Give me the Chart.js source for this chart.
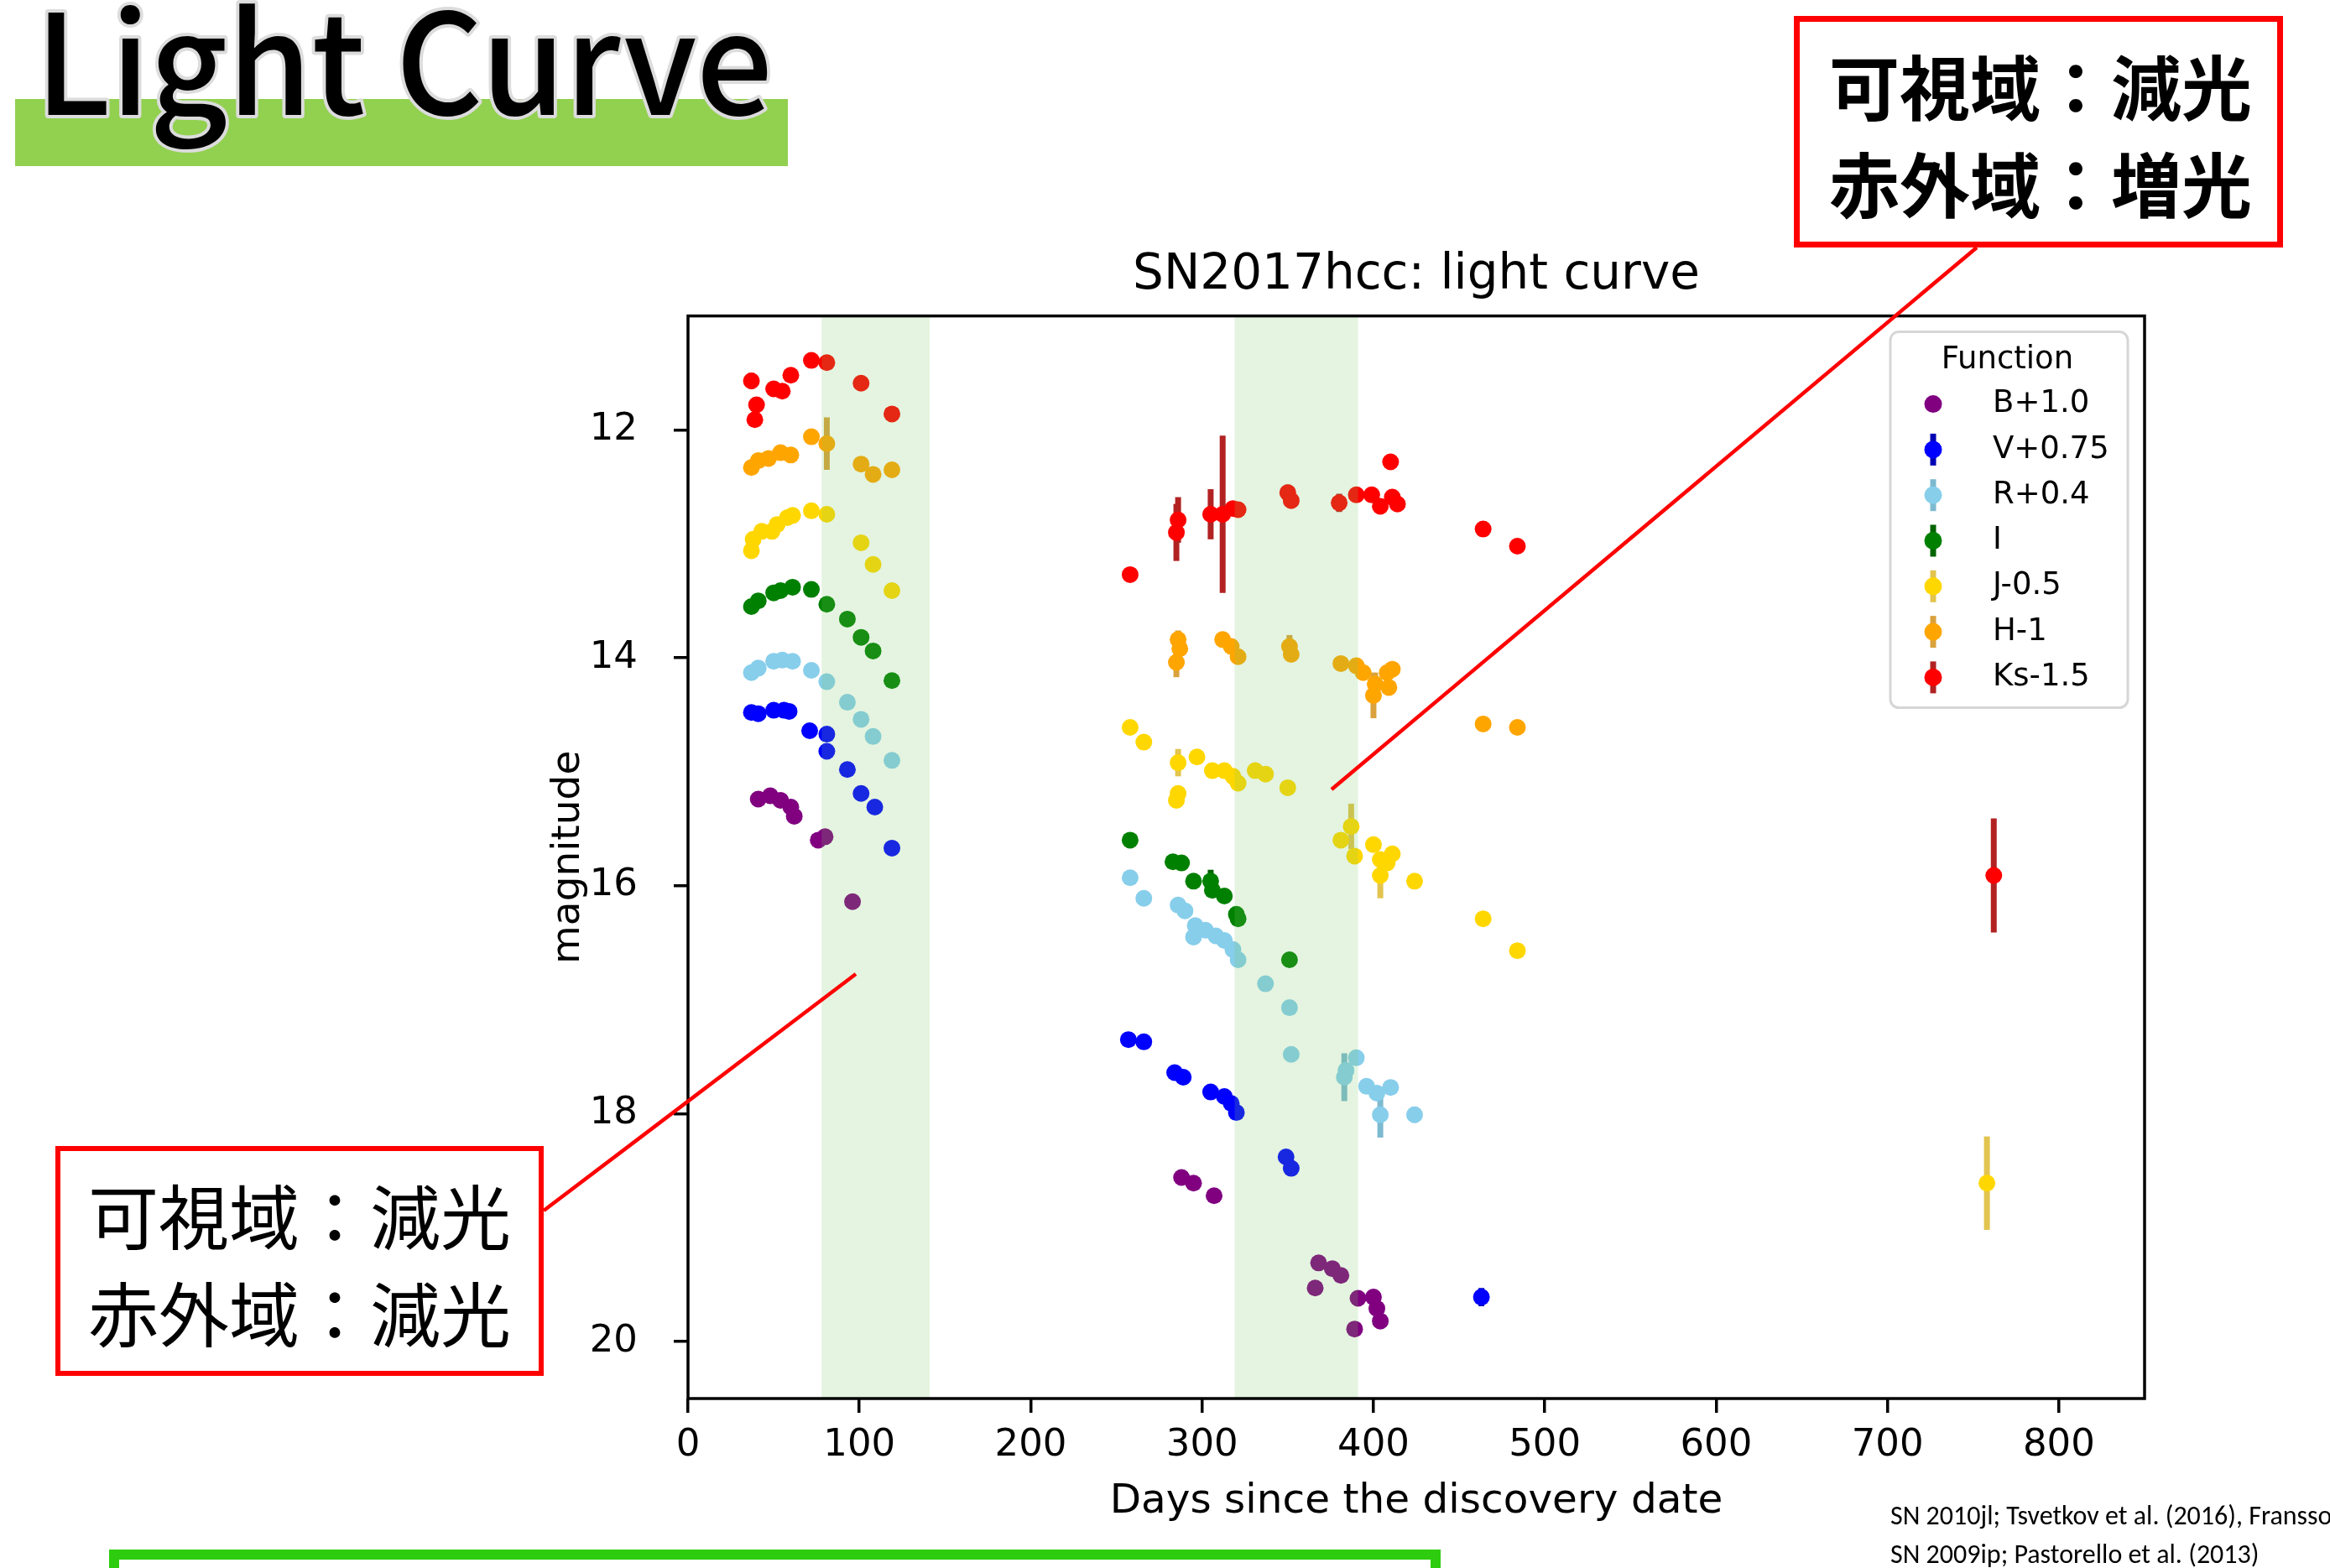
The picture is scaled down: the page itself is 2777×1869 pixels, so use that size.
<!DOCTYPE html>
<html><head><meta charset="utf-8">
<script src="https://cdn.jsdelivr.net/npm/chart.js@4"></script>
<style>
html,body{margin:0;padding:0;background:#fff;}
body{width:2777px;height:1869px;overflow:hidden;position:relative;}
#c{position:absolute;left:0;top:0;}
#deco{position:absolute;left:0;top:0;pointer-events:none;}
</style></head>
<body>
<canvas id="c" width="2777" height="1869"></canvas>
<svg id="deco" width="2777" height="1869" xmlns="http://www.w3.org/2000/svg">
  <rect x="18" y="118" width="921" height="80" fill="#92d050"/>
  <text x="42" y="137" font-family="Noto Sans CJK JP" font-weight="500" font-size="166" textLength="879" lengthAdjust="spacingAndGlyphs" fill="#000" stroke="#dcdcdc" stroke-width="8" paint-order="stroke" stroke-linejoin="round">Light Curve</text>

  <rect x="2141.5" y="22.5" width="576" height="269" fill="#fff" stroke="#ff0000" stroke-width="7"/>
  <text x="2432" y="100" text-anchor="middle" dominant-baseline="central" font-family="Noto Sans CJK JP" font-weight="700" font-size="84" fill="#000">可視域：減光</text>
  <text x="2432" y="216" text-anchor="middle" dominant-baseline="central" font-family="Noto Sans CJK JP" font-weight="700" font-size="84" fill="#000">赤外域：増光</text>
  <line x1="2356" y1="295" x2="1587" y2="941" stroke="#ff0000" stroke-width="4.5"/>

  <rect x="69" y="1369" width="576" height="268" fill="#fff" stroke="#ff0000" stroke-width="6"/>
  <text x="357" y="1446" text-anchor="middle" dominant-baseline="central" font-family="Noto Sans CJK JP" font-weight="400" font-size="84" fill="#000">可視域：減光</text>
  <text x="357" y="1562" text-anchor="middle" dominant-baseline="central" font-family="Noto Sans CJK JP" font-weight="400" font-size="84" fill="#000">赤外域：減光</text>
  <line x1="648" y1="1443" x2="1020" y2="1161" stroke="#ff0000" stroke-width="4.5"/>

  <rect x="136" y="1853" width="1575" height="100" fill="none" stroke="#2ecc0e" stroke-width="12"/>

  <text x="2253" y="1817" font-family="Carlito, Lato" font-size="32" fill="#000" style="white-space:pre">SN 2010jl; Tsvetkov et al. (2016), Fransson et al. (2014)</text>
  <text x="2253" y="1863" font-family="Carlito, Lato" font-size="32" fill="#000" style="white-space:pre">SN 2009ip; Pastorello et al. (2013)</text>
</svg>
<script>
// ---- axes / decoration values ----
const xTickValues = [0, 100, 200, 300, 400, 500, 600, 700, 800];
const yTickValues = [12, 14, 16, 18, 20];
const bandStarts = [78, 319];
const bandEnds = [141, 391];

// ---- series ----
const seriesLabels = ['B+1.0', 'V+0.75', 'R+0.4', 'I', 'J-0.5', 'H-1', 'Ks-1.5'];
const seriesColors = ['#800080', '#0000ff', '#87ceeb', '#008000', '#ffd700', '#ffa500', '#ff0000'];
const errorColors  = [null, '#0000b4', '#7dbad0', '#006400', '#e2c44e', '#d9a23c', '#b22222'];

const bDays = [41, 48, 54, 60, 62, 76, 80, 96, 288, 295, 307, 366, 368, 376, 381, 389, 391, 400, 402, 404];
const bMags = [15.24, 15.21, 15.25, 15.31, 15.39, 15.60, 15.57, 16.14, 18.56, 18.61, 18.72, 19.53, 19.31, 19.36, 19.42, 19.89, 19.62, 19.61, 19.71, 19.82];

const vDays = [37, 41, 50, 56, 59, 71, 81, 81, 93, 101, 109, 119, 257, 266, 284, 289, 305, 313, 317, 320, 349, 352, 463];
const vMags = [14.48, 14.49, 14.46, 14.46, 14.47, 14.64, 14.67, 14.82, 14.98, 15.19, 15.31, 15.67, 17.35, 17.37, 17.64, 17.68, 17.81, 17.85, 17.91, 17.99, 18.38, 18.48, 19.61];
const vErrs = [0, 0, 0, 0, 0, 0, 0, 0, 0, 0, 0, 0, 0.03, 0, 0.03, 0, 0.03, 0, 0, 0, 0.03, 0, 0.08];

const rDays = [37, 41, 50, 55, 61, 72, 81, 93, 101, 108, 119, 258, 266, 286, 290, 295, 296, 302, 308, 313, 318, 321, 337, 351, 352, 383, 384, 390, 396, 402, 404, 410, 424];
const rMags = [14.13, 14.09, 14.03, 14.02, 14.03, 14.11, 14.21, 14.39, 14.54, 14.69, 14.90, 15.93, 16.11, 16.17, 16.22, 16.45, 16.35, 16.39, 16.44, 16.48, 16.56, 16.65, 16.86, 17.07, 17.48, 17.68, 17.62, 17.51, 17.76, 17.82, 18.01, 17.77, 18.01];
const rErrs = [0, 0, 0, 0, 0, 0, 0, 0, 0, 0, 0, 0, 0, 0, 0, 0, 0, 0, 0, 0, 0, 0, 0, 0, 0, 0.21, 0, 0, 0, 0, 0.2, 0, 0.07];

const iDays = [37, 41, 50, 54, 61, 72, 81, 93, 101, 108, 119, 258, 283, 288, 295, 305, 306, 313, 320, 321, 351];
const iMags = [13.55, 13.50, 13.43, 13.41, 13.38, 13.40, 13.53, 13.66, 13.82, 13.94, 14.20, 15.60, 15.79, 15.80, 15.96, 15.96, 16.04, 16.09, 16.25, 16.29, 16.65];
const iErrs = [0, 0, 0, 0, 0, 0, 0, 0, 0, 0, 0, 0, 0, 0, 0, 0.1, 0, 0, 0, 0, 0];

const jDays = [37, 38, 43, 49, 52, 58, 61, 72, 81, 101, 108, 119, 258, 266, 286, 286, 285, 297, 306, 313, 318, 321, 331, 337, 350, 381, 387, 389, 400, 404, 404, 408, 411, 424, 464, 484, 758];
const jMags = [13.06, 12.96, 12.89, 12.89, 12.83, 12.77, 12.75, 12.71, 12.74, 12.99, 13.18, 13.41, 14.61, 14.74, 14.92, 15.19, 15.25, 14.87, 14.99, 14.99, 15.04, 15.10, 14.99, 15.02, 15.14, 15.60, 15.48, 15.74, 15.64, 15.77, 15.91, 15.80, 15.72, 15.96, 16.29, 16.57, 18.61];
const jErrs = [0, 0, 0, 0, 0, 0, 0, 0, 0, 0, 0, 0, 0, 0, 0.12, 0, 0, 0, 0, 0, 0, 0, 0, 0, 0, 0, 0.2, 0, 0, 0, 0.2, 0, 0, 0, 0, 0.04, 0.41];

const hDays = [37, 41, 47, 54, 60, 72, 81, 101, 108, 119, 285, 286, 287, 312, 317, 321, 351, 352, 381, 390, 394, 401, 400, 408, 411, 409, 464, 484];
const hMags = [12.33, 12.27, 12.25, 12.20, 12.22, 12.06, 12.12, 12.30, 12.39, 12.35, 14.04, 13.84, 13.92, 13.84, 13.90, 13.99, 13.90, 13.97, 14.05, 14.07, 14.13, 14.23, 14.33, 14.13, 14.10, 14.26, 14.58, 14.61];
const hErrs = [0, 0, 0, 0, 0, 0, 0.23, 0, 0, 0, 0.13, 0.08, 0, 0, 0, 0, 0.1, 0, 0, 0, 0, 0.1, 0.2, 0, 0, 0, 0, 0.05];

const kDays = [37, 40, 39, 50, 55, 60, 72, 81, 101, 119, 258, 286, 285, 305, 312, 318, 321, 350, 352, 380, 390, 399, 404, 410, 411, 414, 464, 484, 762];
const kMags = [11.57, 11.78, 11.91, 11.64, 11.66, 11.52, 11.39, 11.41, 11.59, 11.86, 13.27, 12.79, 12.90, 12.74, 12.74, 12.69, 12.70, 12.55, 12.62, 12.64, 12.57, 12.57, 12.67, 12.28, 12.59, 12.65, 12.87, 13.02, 15.91];
const kErrs = [0.07, 0, 0, 0, 0, 0, 0, 0, 0.06, 0, 0, 0.2, 0.25, 0.22, 0.69, 0, 0, 0.07, 0, 0.08, 0, 0.06, 0, 0, 0, 0, 0, 0.06, 0.5];

const allDays = [bDays, vDays, rDays, iDays, jDays, hDays, kDays];
const allMags = [bMags, vMags, rMags, iMags, jMags, hMags, kMags];
const allErrs = [null, vErrs, rErrs, iErrs, jErrs, hErrs, kErrs];

Chart.defaults.font.family = "'DejaVu Sans'";
Chart.defaults.color = '#000';

const datasets = seriesLabels.map((label, i) => ({
  label,
  data: allDays[i].map((d, j) => ({ x: d, y: allMags[i][j], e: allErrs[i] ? allErrs[i][j] : 0 })),
  backgroundColor: seriesColors[i],
  borderColor: seriesColors[i],
  borderWidth: 0,
  pointRadius: 10,
  pointHoverRadius: 10,
  errColor: errorColors[i],
  order: seriesLabels.length - i
}));

const errorBars = {
  id: 'errorBars',
  beforeDatasetsDraw(chart) {
    const { ctx, scales: { x, y } } = chart;
    ctx.save();
    ctx.lineWidth = 7;
    ctx.lineCap = 'butt';
    chart.data.datasets.forEach(ds => {
      if (!ds.errColor) return;
      ctx.strokeStyle = ds.errColor;
      ds.data.forEach(p => {
        if (p.e > 0) {
          const px = x.getPixelForValue(p.x);
          ctx.beginPath();
          ctx.moveTo(px, y.getPixelForValue(p.y - p.e));
          ctx.lineTo(px, y.getPixelForValue(p.y + p.e));
          ctx.stroke();
        }
      });
    });
    ctx.restore();
  }
};

const bandsAndFrame = {
  id: 'bandsAndFrame',
  afterDatasetsDraw(chart) {
    const { ctx, chartArea: a, scales: { x } } = chart;
    ctx.save();
    ctx.fillStyle = 'rgba(120,200,100,0.2)';
    bandStarts.forEach((s, i) => {
      const x0 = x.getPixelForValue(s), x1 = x.getPixelForValue(bandEnds[i]);
      ctx.fillRect(x0, a.top, x1 - x0, a.bottom - a.top);
    });
    ctx.strokeStyle = '#000';
    ctx.lineWidth = 3.5;
    ctx.strokeRect(a.left, a.top, a.right - a.left, a.bottom - a.top);
    ctx.restore();
  }
};

const mplLegend = {
  id: 'mplLegend',
  afterDraw(chart) {
    const { ctx, chartArea: a } = chart;
    const w = 283, h = 448, x0 = a.right - 20 - w, y0 = a.top + 19, r = 10;
    ctx.save();
    ctx.beginPath();
    ctx.moveTo(x0 + r, y0);
    ctx.arcTo(x0 + w, y0, x0 + w, y0 + h, r);
    ctx.arcTo(x0 + w, y0 + h, x0, y0 + h, r);
    ctx.arcTo(x0, y0 + h, x0, y0, r);
    ctx.arcTo(x0, y0, x0 + w, y0, r);
    ctx.closePath();
    ctx.fillStyle = 'rgba(255,255,255,0.8)';
    ctx.fill();
    ctx.strokeStyle = '#d6d6d6';
    ctx.lineWidth = 3;
    ctx.stroke();
    ctx.font = "37px 'DejaVu Sans'";
    ctx.fillStyle = '#000';
    ctx.textBaseline = 'middle';
    ctx.textAlign = 'center';
    ctx.fillText('Function', x0 + w / 2 - 2, y0 + 34);
    ctx.textAlign = 'left';
    chart.data.datasets.forEach((ds, i) => {
      const cy = y0 + 86 + i * 54.3;
      const mx = x0 + 51;
      if (ds.errColor) {
        ctx.strokeStyle = ds.errColor;
        ctx.lineWidth = 7;
        ctx.beginPath();
        ctx.moveTo(mx, cy - 19);
        ctx.lineTo(mx, cy + 19);
        ctx.stroke();
      }
      ctx.fillStyle = ds.backgroundColor;
      ctx.beginPath();
      ctx.arc(mx, cy, 10.5, 0, Math.PI * 2);
      ctx.fill();
      ctx.fillStyle = '#000';
      ctx.fillText(ds.label, x0 + 122, cy);
    });
    ctx.restore();
  }
};

const tickGrid = { display: true, drawOnChartArea: false, drawTicks: true, tickLength: 17, tickWidth: 3.5, tickColor: '#000', color: '#000', lineWidth: 3.5 };

new Chart(document.getElementById('c'), {
  type: 'scatter',
  data: { datasets },
  options: {
    responsive: false,
    animation: false,
    events: [],
    devicePixelRatio: 1,
    layout: { padding: { left: 650, right: 221, top: 294, bottom: 49 } },
    plugins: {
      legend: { display: false },
      tooltip: { enabled: false },
      title: {
        display: true, text: 'SN2017hcc: light curve', fullSize: false,
        font: { size: 58, weight: 'normal' }, color: '#000',
        padding: { top: 0, bottom: 13 }
      }
    },
    scales: {
      x: {
        type: 'linear', min: 0, max: 850,
        afterBuildTicks: s => { s.ticks = xTickValues.map(v => ({ value: v })); },
        afterFit: s => { s.height = 153; },
        ticks: { font: { size: 45 }, color: '#000', padding: 12, maxRotation: 0, autoSkip: false },
        grid: tickGrid,
        border: { display: false },
        title: { display: true, text: 'Days since the discovery date', font: { size: 48.5 }, color: '#000', padding: 0 }
      },
      y: {
        type: 'linear', reverse: true, min: 11.0, max: 20.5,
        afterBuildTicks: s => { s.ticks = yTickValues.map(v => ({ value: v })); },
        afterFit: s => { s.width = 170; },
        ticks: { font: { size: 45 }, color: '#000', padding: 43, autoSkip: false },
        grid: tickGrid,
        border: { display: false },
        title: { display: true, text: 'magnitude', font: { size: 47 }, color: '#000', padding: 0 }
      }
    }
  },
  plugins: [errorBars, bandsAndFrame, mplLegend]
});
</script>
</body></html>
